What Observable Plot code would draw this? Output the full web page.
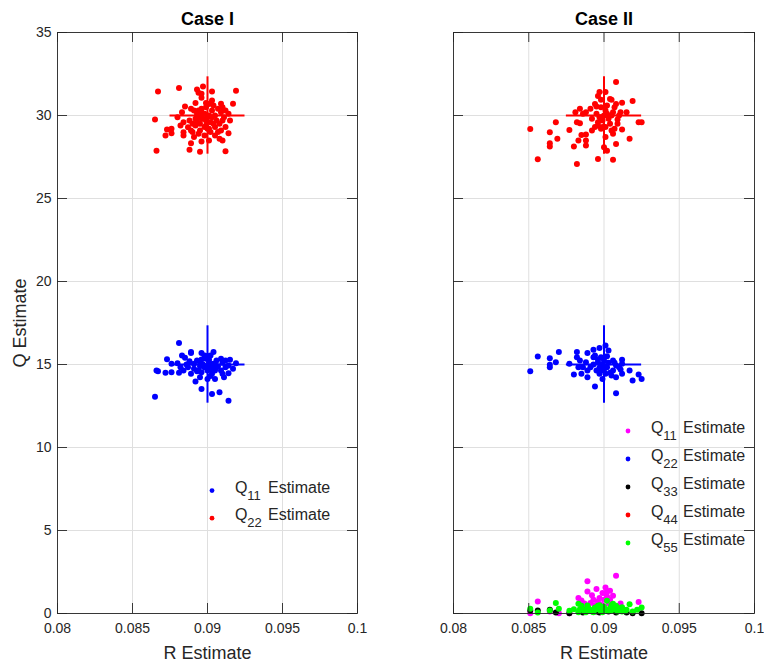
<!DOCTYPE html>
<html>
<head>
<meta charset="utf-8">
<script src="https://cdn.jsdelivr.net/npm/d3@7"></script>
<script src="https://cdn.jsdelivr.net/npm/@observablehq/plot@0.6"></script>
<style>
  html, body { margin: 0; padding: 0; background: #fff; }
  #root { position: relative; width: 764px; height: 663px; background: #fff; overflow: hidden; }
  #root svg { position: absolute; top: 0; }
</style>
</head>
<body>
<div id="root"></div>
<script>
// ---------- axis ticks ----------
const xTicks = [0.08, 0.085, 0.09, 0.095, 0.1];
const xTickLabels = ["0.08", "0.085", "0.09", "0.095", "0.1"];
const yTicks = [0, 5, 10, 15, 20, 25, 30, 35];
const titles = ["Case I", "Case II"];
const xLabel = "R Estimate";
const yLabel = "Q Estimate";

// ---------- true values (crosses) ----------
const trueR = [0.09];
const trueQ = [15, 30];
const crossHalfR = 0.0025;
const crossHalfQ = 2.33;

// ---------- Case I estimates [R, Q] ----------
const caseI_Q11 = [
  [0.0881,16.29],[0.0873,15.32],[0.0866,14.64],[0.0867,14.60],[0.0872,14.50],[0.0876,14.54],
  [0.0881,14.50],[0.0876,15.04],[0.0883,15.54],[0.0885,15.40],[0.0889,15.69],[0.0889,15.75],
  [0.0896,15.70],[0.0904,15.75],[0.0902,15.54],[0.0898,15.54],[0.0909,15.34],[0.0912,15.24],
  [0.0915,15.28],[0.0919,15.08],[0.0917,14.74],[0.0914,14.48],[0.0911,14.23],[0.0910,14.44],
  [0.0905,14.13],[0.0900,14.13],[0.0895,14.23],[0.0892,13.97],[0.0889,14.44],[0.0884,14.64],
  [0.0887,14.84],[0.0891,15.04],[0.0893,15.24],[0.0895,15.14],[0.0898,14.84],[0.0900,14.64],
  [0.0902,14.84],[0.0904,15.04],[0.0906,14.84],[0.0909,14.64],[0.0912,14.84],[0.0914,14.94],
  [0.0894,14.64],[0.0891,14.74],[0.0896,13.53],[0.0903,13.23],[0.0908,13.33],[0.0914,12.82],
  [0.0865,13.06],[0.0903,14.44],[0.0899,15.34],[0.0906,15.24],[0.0882,14.84],[0.0880,15.08],
  [0.0901,15.14],[0.0896,14.54],[0.0905,14.64],
  [0.0897,15.00],[0.0899,14.90],[0.0901,15.30],[0.0903,14.70],[0.0895,14.90],[0.0893,14.60],
  [0.0905,15.00],[0.0907,14.90],[0.0900,15.50],[0.0896,15.30],[0.0888,15.20],[0.0910,15.10],
  [0.0902,14.30],[0.0886,15.00]
];
const caseI_Q22 = [
  [0.0867,31.45],[0.0881,31.65],[0.0893,31.57],[0.0897,31.75],[0.0894,31.37],[0.0903,31.45],
  [0.0919,31.49],[0.0917,30.71],[0.0909,30.71],[0.0885,30.54],[0.0892,30.75],[0.0896,31.07],
  [0.0896,31.31],[0.0865,29.76],[0.0883,30.20],[0.0889,30.40],[0.0891,30.30],[0.0880,29.90],
  [0.0884,29.60],[0.0873,29.15],[0.0876,29.20],[0.0872,28.80],[0.0876,28.93],[0.0884,28.99],
  [0.0884,28.79],[0.0887,29.29],[0.0889,29.09],[0.0890,29.50],[0.0892,29.80],[0.0894,29.90],
  [0.0896,29.80],[0.0899,29.70],[0.0901,30.00],[0.0903,30.30],[0.0905,30.00],[0.0909,30.20],
  [0.0912,30.30],[0.0914,30.10],[0.0915,29.70],[0.0910,29.70],[0.0908,29.50],[0.0905,29.30],
  [0.0909,29.10],[0.0914,28.93],[0.0910,28.50],[0.0908,28.60],[0.0905,28.80],[0.0902,29.00],
  [0.0900,29.20],[0.0898,29.30],[0.0895,29.10],[0.0894,28.90],[0.0891,28.70],[0.0889,28.33],
  [0.0896,28.43],[0.0888,27.94],[0.0895,27.82],[0.0866,27.88],[0.0912,27.84],[0.0901,28.50],
  [0.0903,30.90],[0.0901,30.70],[0.0899,30.50],[0.0896,30.40],[0.0893,30.10],[0.0895,29.50],
  [0.0898,28.80],[0.0892,29.40],[0.0882,29.40],[0.0888,29.70],[0.0912,29.30],[0.0907,29.00],
  [0.0904,29.50],[0.0899,30.75],[0.0910,30.50],
  [0.0900,29.90],[0.0898,30.10],[0.0902,29.60],[0.0897,29.80],[0.0903,29.90],[0.0896,30.20],
  [0.0904,30.60],[0.0899,29.40],[0.0901,29.20],[0.0906,29.70],[0.0893,29.60],[0.0894,30.30],
  [0.0907,30.40],[0.0890,29.00],[0.0911,29.90]
];

// ---------- Case II estimates [R, Q] ----------
const caseII_Q11 = [
  [0.0908,2.28],[0.0889,1.94],[0.0889,1.33],[0.0895,1.47],[0.0901,1.57],[0.0902,1.33],
  [0.0904,1.37],[0.0906,1.07],[0.0899,1.23],[0.0897,0.93],[0.0893,0.83],[0.0885,0.79],
  [0.0883,0.93],[0.0896,0.73],[0.0902,1.03],[0.0900,0.83],[0.0904,0.83],[0.0856,0.73],
  [0.0923,0.69],[0.0891,0.63],[0.0898,0.52],[0.0851,0.02],[0.0864,0.12],[0.0870,0.02],
  [0.0877,0.02],[0.0908,0.42],[0.0888,0.32],
  [0.0892,1.10],[0.0901,1.20],[0.0903,0.60],[0.0894,0.50],[0.0887,0.60],[0.0911,0.60]
];
const caseII_Q22 = [
  [0.0851,14.60],[0.0856,15.48],[0.0864,15.38],[0.0864,14.84],[0.0864,14.98],[0.0868,15.14],
  [0.0870,15.75],[0.0877,15.04],[0.0880,14.40],[0.0882,15.75],[0.0882,15.44],[0.0883,14.84],
  [0.0884,15.24],[0.0889,15.69],[0.0889,14.23],[0.0889,14.64],[0.0893,15.44],[0.0893,15.89],
  [0.0897,15.99],[0.0901,16.15],[0.0903,15.85],[0.0894,13.67],[0.0908,13.27],[0.0899,14.13],
  [0.0906,15.24],[0.0908,14.94],[0.0912,15.28],[0.0917,14.64],[0.0919,14.03],[0.0923,14.40],
  [0.0925,14.13],[0.0912,14.44],[0.0908,14.23],[0.0905,14.33],[0.0897,14.44],[0.0895,14.64],
  [0.0891,14.84],[0.0886,14.84],[0.0888,15.14],[0.0896,15.14],[0.0898,15.44],[0.0902,14.84],
  [0.0906,14.64],[0.0910,14.84],[0.0912,15.04],[0.0894,15.54],[0.0900,15.24],[0.0898,14.64],
  [0.0901,14.44],[0.0885,14.44],
  [0.0899,15.00],[0.0901,14.90],[0.0903,15.10],[0.0897,14.80],[0.0904,14.50],[0.0900,14.70],
  [0.0896,15.30],[0.0902,15.50],[0.0907,15.10],[0.0893,15.00],[0.0911,14.70]
];
const caseII_Q33 = [
  [0.0851,0.18],[0.0856,0.18],[0.0864,0.22],[0.0868,0.06],[0.0877,0.02],[0.0886,0.06],
  [0.0897,0.06],[0.0908,0.06],[0.0915,0.06],[0.0919,0.02],[0.0925,0.02],[0.0895,0.12],
  [0.0903,0.12]
];
const caseII_Q44 = [
  [0.0908,32.02],[0.0901,31.41],[0.0897,31.41],[0.0896,31.17],[0.0898,30.95],[0.0905,30.95],
  [0.0908,30.70],[0.0912,30.77],[0.0919,30.87],[0.0894,30.70],[0.0895,30.54],[0.0884,30.40],
  [0.0881,30.20],[0.0888,30.20],[0.0891,30.40],[0.0907,30.50],[0.0911,30.20],[0.0915,30.20],
  [0.0909,29.76],[0.0923,29.60],[0.0925,29.60],[0.0868,29.60],[0.0851,29.19],[0.0864,28.99],
  [0.0877,29.13],[0.0882,29.60],[0.0884,29.54],[0.0892,29.09],[0.0896,29.40],[0.0898,29.20],
  [0.0901,29.30],[0.0905,29.09],[0.0907,29.20],[0.0912,29.15],[0.0917,28.60],[0.0906,28.90],
  [0.0901,28.70],[0.0900,28.08],[0.0902,27.88],[0.0908,28.29],[0.0888,28.85],[0.0885,28.83],
  [0.0888,28.49],[0.0888,28.19],[0.0883,28.49],[0.0880,28.13],[0.0869,28.60],[0.0864,28.33],
  [0.0864,28.13],[0.0856,27.36],[0.0882,27.08],[0.0896,27.38],[0.0906,27.34],[0.0895,30.10],
  [0.0897,29.90],[0.0899,29.70],[0.0902,30.10],[0.0905,30.00],[0.0892,29.80],[0.0901,30.30],
  [0.0898,30.50],[0.0904,29.50],[0.0896,29.60],[0.0909,29.50],[0.0886,30.10],
  [0.0900,30.00],[0.0903,29.80],[0.0898,29.90],[0.0902,30.60],[0.0906,30.20],[0.0904,31.00],
  [0.0899,29.30],[0.0894,29.30],[0.0910,30.00]
];
const caseII_Q55 = [
  [0.0851,0.28],[0.0856,0.06],[0.0864,0.18],[0.0868,0.63],[0.0870,0.28],[0.0877,0.16],
  [0.0880,0.26],[0.0883,0.58],[0.0884,0.26],[0.0886,0.22],[0.0888,0.26],[0.0891,0.18],
  [0.0893,0.22],[0.0895,0.26],[0.0897,0.22],[0.0899,0.32],[0.0901,0.22],[0.0902,0.77],
  [0.0904,0.32],[0.0906,0.58],[0.0907,0.26],[0.0908,0.22],[0.0910,0.32],[0.0912,0.38],
  [0.0912,0.12],[0.0915,0.22],[0.0917,0.56],[0.0919,0.12],[0.0922,0.22],[0.0925,0.36],
  [0.0893,0.08],[0.0899,0.08],[0.0888,0.08],[0.0885,0.46],[0.0896,0.46],[0.0908,0.46],
  [0.0883,0.08],
  [0.0887,0.14],[0.0890,0.30],[0.0892,0.12],[0.0894,0.36],[0.0898,0.14],[0.0900,0.40],
  [0.0903,0.16],[0.0905,0.20],[0.0909,0.12],[0.0911,0.24],[0.0914,0.14],[0.0889,0.48],
  [0.0897,0.50],[0.0905,0.50]
];

// ---------- legends ----------
const legendI_subs = ["11", "22"];
const legendI_colors = ["#0000ff", "#ff0000"];
const legendII_subs = ["11", "22", "33", "44", "55"];
const legendII_colors = ["#ff00ff", "#0000ff", "#000000", "#ff0000", "#00ff00"];

// ---------- drawing ----------
const FONT = "'Liberation Sans', Arial, Helvetica, sans-serif";
const AX = "#262626";
const GRID = "#dfdfdf";
const H = 663, MT = 32, MB = 50;
const TICK = 10;

function panel({left, mLeft, mRight, title, showY, series}) {
  const W = 382;
  const plotW = W - mLeft - mRight;
  const plotH = H - MT - MB;
  const dotMarks = series.map(([data, color]) =>
    Plot.dot(data, {x: d => d[0], y: d => d[1], r: 3, fill: color, stroke: "none"}));
  const crossData = trueQ.map(q => ({r: trueR[0], q, color: q === 15 ? "#0000ff" : "#ff0000"}));
  const crossMarks = [
    Plot.ruleY(crossData, {y: "q", x1: d => d.r - crossHalfR, x2: d => d.r + crossHalfR, stroke: "color", strokeWidth: 2}),
    Plot.ruleX(crossData, {x: "r", y1: d => d.q - crossHalfQ, y2: d => d.q + crossHalfQ, stroke: "color", strokeWidth: 2})
  ];

  const svg = Plot.plot({
    width: W, height: H,
    marginTop: MT, marginBottom: MB, marginLeft: mLeft, marginRight: mRight,
    x: {domain: [0.08, 0.1]},
    y: {domain: [0, 35], axis: null},
    color: {type: "identity"},
    style: {fontFamily: FONT, fontSize: "14px", color: AX, background: "transparent", overflow: "visible"},
    marks: [
      Plot.gridX(xTicks, {stroke: GRID, strokeOpacity: 1}),
      Plot.gridY(yTicks, {stroke: GRID, strokeOpacity: 1}),
      ...dotMarks,
      ...crossMarks,
      Plot.frame({stroke: AX, strokeWidth: 0.9}),
      Plot.tickX(xTicks, {x: d => d, insetTop: plotH - TICK, stroke: AX, strokeWidth: 0.9}),
      Plot.tickX(xTicks, {x: d => d, insetBottom: plotH - TICK, stroke: AX, strokeWidth: 0.9}),
      Plot.tickY(yTicks, {y: d => d, insetRight: plotW - TICK, stroke: AX, strokeWidth: 0.9}),
      Plot.tickY(yTicks, {y: d => d, insetLeft: plotW - TICK, stroke: AX, strokeWidth: 0.9}),
      Plot.axisX(xTicks, {tickSize: 0, tickPadding: 10, tickFormat: d => xTickLabels[xTicks.indexOf(d)], label: null, fontSize: 14}),
      showY ? Plot.axisY(yTicks, {tickSize: 0, tickPadding: 6, tickFormat: d => String(d), label: null, fontSize: 14}) : null,
      Plot.text([title], {frameAnchor: "top", dy: -8, lineAnchor: "bottom", fontWeight: "bold", fontSize: 18, fill: "#000"}),
      Plot.text([xLabel], {frameAnchor: "bottom", dy: 45, lineAnchor: "bottom", fontSize: 18}),
      showY ? Plot.text([yLabel], {frameAnchor: "left", dx: -44, rotate: -90, lineAnchor: "top", textAnchor: "middle", fontSize: 18}) : null
    ].filter(Boolean)
  });
  svg.style.left = left + "px";
  return svg;
}

const root = document.getElementById("root");
root.appendChild(panel({
  left: 0, mLeft: 57, mRight: 25, title: titles[0], showY: true,
  series: [[caseI_Q11, "#0000ff"], [caseI_Q22, "#ff0000"]]
}));
root.appendChild(panel({
  left: 382, mLeft: 71, mRight: 10, title: titles[1], showY: false,
  series: [[caseII_Q11, "#ff00ff"], [caseII_Q22, "#0000ff"], [caseII_Q33, "#000000"], [caseII_Q44, "#ff0000"], [caseII_Q55, "#00ff00"]]
}));

// legends (overlay svg)
const ov = d3.select(root).append("svg").attr("width", 764).attr("height", 663)
  .style("left", "0px").style("pointer-events", "none")
  .attr("font-family", FONT).attr("fill", AX);

function legend({subs, colors, markerX, textX, base0, step, font, subFont, qW, estDx}) {
  subs.forEach((s, i) => {
    const b = base0 + i * step;
    ov.append("circle").attr("cx", markerX).attr("cy", b - 2).attr("r", 2.4).attr("fill", colors[i]);
    ov.append("text").attr("x", textX).attr("y", b).attr("font-size", font).text("Q");
    ov.append("text").attr("x", textX + qW).attr("y", b + 7).attr("font-size", subFont).text(s);
    ov.append("text").attr("x", textX + estDx).attr("y", b).attr("font-size", font).text("Estimate");
  });
}
legend({subs: legendI_subs, colors: legendI_colors, markerX: 212, textX: 235, base0: 492.6, step: 27.6, font: 16, subFont: 13, qW: 12.2, estDx: 33});
legend({subs: legendII_subs, colors: legendII_colors, markerX: 628, textX: 651, base0: 433, step: 28, font: 16, subFont: 13, qW: 12.2, estDx: 32});
</script>
</body>
</html>
